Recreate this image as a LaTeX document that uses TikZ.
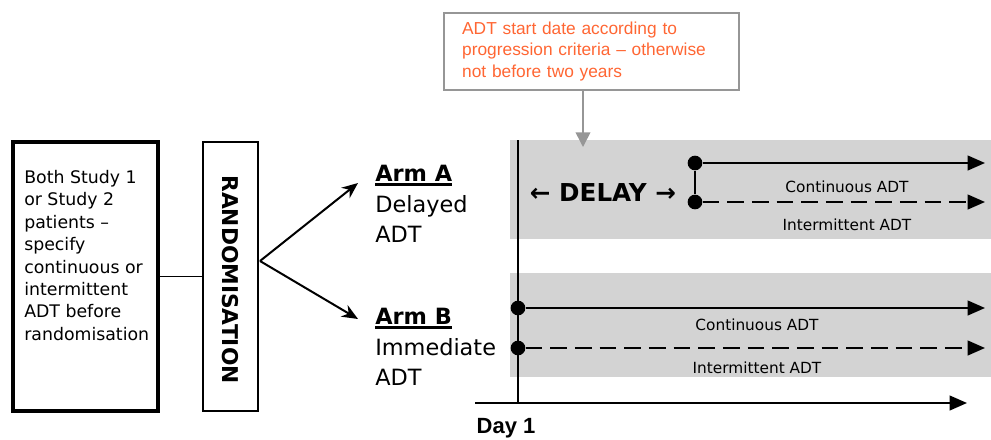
\documentclass[tikz,border=0pt]{standalone}
\usepackage{fontspec}
\setmainfont{DejaVu Sans}
\newfontfamily\notefont{Liberation Sans}
\usetikzlibrary{arrows.meta,calc}

\definecolor{bandgray}{RGB}{211,211,211}
\definecolor{noteorange}{RGB}{255,102,51}
\definecolor{notegray}{RGB}{150,150,150}

\newcommand{\armtitle}[1]{\setbox0=\hbox{\bfseries #1}\leavevmode\rlap{\rule[-3pt]{\wd0}{2pt}}\box0}

\tikzset{
  thickbox/.style={draw, line width=2.2pt, inner sep=0pt},
  armtext/.style={anchor=north west, align=left, inner sep=0pt, font=\fontsize{16.8}{23}\selectfont},
  armline/.style={line width=1.5pt, -{Triangle[length=13pt,width=11pt]}},
  armdash/.style={armline, dash pattern=on 12.5pt off 6pt},
  startdot/.style={circle, fill, inner sep=0pt, minimum size=11pt},
  adtlabel/.style={font=\fontsize{11.5}{13}\selectfont},
}

\begin{document}
\begin{tikzpicture}[x=0.75pt,y=0.75pt,yscale=-1,xscale=1]
\useasboundingbox (0,0) rectangle (991,439);

%Shape: Rectangle [bands]
\fill[bandgray] (510,140) rectangle (991,239);
\fill[bandgray] (510,273) rectangle (991,377);

%Shape: Rectangle [study]
\node[thickbox, line width=2.8pt, minimum width=108.75pt, minimum height=201.75pt] (study) at (85.5,276.5) {};
\node[anchor=north west, align=left, inner sep=0pt, font=\fontsize{13}{16.8}\selectfont] (studytext) at (24,170)
  {Both Study 1\\or Study 2\\patients --\\specify\\continuous or\\intermittent\\ADT before\\randomisation};

%Shape: Rectangle [randomisation]
\node[thickbox, minimum width=41.25pt, minimum height=201.75pt] (rand) at (230.5,276.5) {};
\node[rotate=-90, inner sep=0pt, font=\bfseries\fontsize{16.3}{18}\selectfont] (randtext) at (230.5,279.5) {RANDOMISATION};

%Straight Lines [study to randomisation]
\draw[line width=1.1pt] (study.east) -- (rand.west);

%Arms
\node[armtext] (armA) at (375,165) {\armtitle{Arm A}\\Delayed\\ADT};
\node[armtext] (armB) at (375,308) {\armtitle{Arm B}\\Immediate\\ADT};
\coordinate (fork) at (260,261);
\coordinate (tipA) at (358,183);
\coordinate (tipB) at (358,319);
\draw[line width=1.5pt, -{Stealth[length=12pt,width=10pt]}] (fork) -- (tipA);
\draw[line width=1.5pt, -{Stealth[length=12pt,width=10pt]}] (fork) -- (tipB);

%Time axis
\coordinate (day1top) at (518,140);
\coordinate (axisL) at (475,403);
\coordinate (axisR) at (967,403);
\draw[line width=1.5pt] (day1top) -- (day1top |- axisL);
\draw[line width=1.5pt, -{Triangle[length=13pt,width=11pt]}] (axisL) -- (axisR);
\node[font=\notefont\bfseries\fontsize{16.5}{18}\selectfont] (day1) at (506,428) {Day 1};

%Arm A lines
\node[font=\bfseries\fontsize{18.5}{20}\selectfont] (delay) at (603,193) {← DELAY →};
\node[startdot] (dotAc) at (695,163) {};
\node[startdot] (dotAi) at (695,202) {};
\coordinate (endAc) at (985,163);
\coordinate (endAi) at (985,202);
\draw[line width=1.5pt] (dotAc) -- (dotAi);
\draw[armline] (dotAc) -- (endAc);
\draw[armdash] (dotAi) -- (endAi);
\node[adtlabel] (labAc) at (847,187) {Continuous ADT};
\node[adtlabel] (labAi) at (847,225) {Intermittent ADT};

%Arm B lines
\node[startdot] (dotBc) at (518,308) {};
\node[startdot] (dotBi) at (518,348) {};
\coordinate (endBc) at (985,308);
\coordinate (endBi) at (985,348);
\draw[armline] (dotBc) -- (endBc);
\draw[armdash] (dotBi) -- (endBi);
\node[adtlabel] (labBc) at (757,325) {Continuous ADT};
\node[adtlabel] (labBi) at (757,368) {Intermittent ADT};

%Note box
\node[draw=notegray, line width=1.2pt, fill=white, minimum width=221.25pt, minimum height=57.75pt,
  text width=194pt, inner xsep=13.5pt, align=left, text=noteorange,
  font=\notefont\fontsize{13}{16}\selectfont] (note) at (591.5,51.5)
  {ADT start date according to\\progression criteria – otherwise\\not before two years};
\coordinate (delaystart) at (583,147);
\draw[notegray, line width=1.2pt, -{Triangle[length=11pt,width=11pt]}] (note.south -| delaystart) -- (delaystart);
\end{tikzpicture}
\end{document}
